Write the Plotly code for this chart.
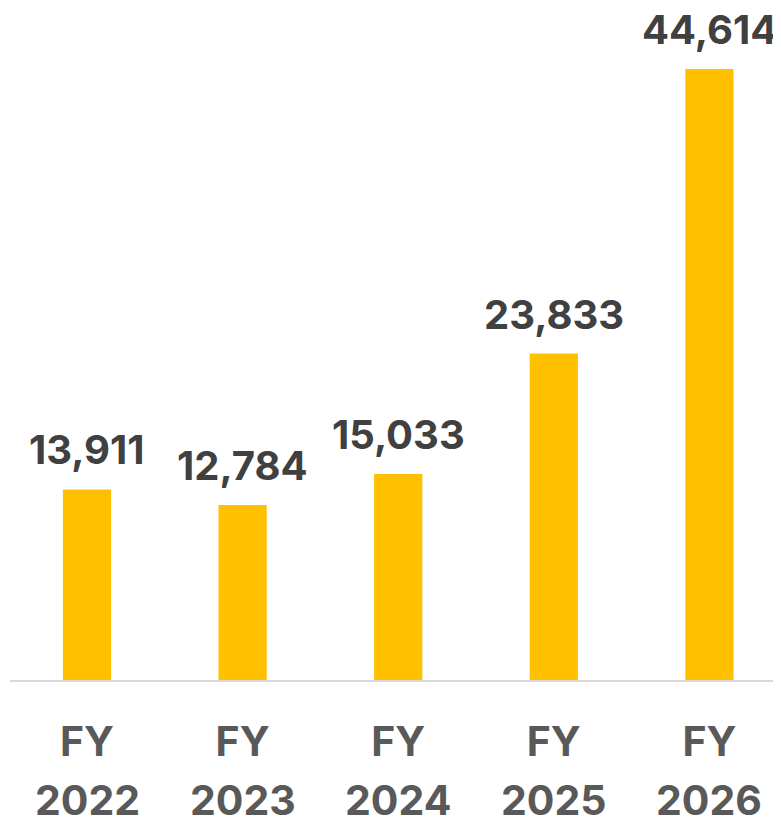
import plotly.graph_objects as go

fy_labels = ["FY", "FY", "FY", "FY", "FY"]
year_labels = ["2022", "2023", "2024", "2025", "2026"]
values = [13911, 12784, 15033, 23833, 44614]
value_labels = ["13,911", "12,784", "15,033", "23,833", "44,614"]

FONT = "Inter, Liberation Sans, Arial, sans-serif"
x_idx = list(range(len(values)))

fig = go.Figure()
fig.add_trace(go.Bar(
    x=x_idx,
    y=values,
    width=0.31,
    marker=dict(color="#FFC000", line=dict(width=0)),
    hoverinfo="skip",
))

for i, (v, lab) in enumerate(zip(values, value_labels)):
    fig.add_annotation(
        x=i, y=v, text=lab, showarrow=False,
        xref="x", yref="y", yanchor="bottom", yshift=13,
        font=dict(family=FONT, size=40, color="#404040", weight=700),
    )

for i, yr in enumerate(year_labels):
    fig.add_annotation(
        x=i, y=0, text=yr, showarrow=False,
        xref="x", yref="paper", yanchor="top", yshift=-93,
        font=dict(family=FONT, size=41, color="#595959", weight=700),
    )

fig.update_layout(
    width=773, height=813,
    margin=dict(l=2, r=0, t=0, b=141),
    paper_bgcolor="white", plot_bgcolor="white",
    showlegend=False,
    xaxis=dict(
        range=[-0.4949, 4.460],
        tickmode="array",
        tickvals=x_idx,
        ticktext=fy_labels,
        tickfont=dict(family=FONT, size=41, color="#595959", weight=700),
        showline=True, linecolor="#D9D9D9", linewidth=1.5,
        ticks="", showgrid=False, zeroline=False,
        ticklabelstandoff=25,
    ),
    yaxis=dict(
        range=[0, 49069], visible=False, showgrid=False, zeroline=False,
    ),
)

fig.write_html("out.html")
